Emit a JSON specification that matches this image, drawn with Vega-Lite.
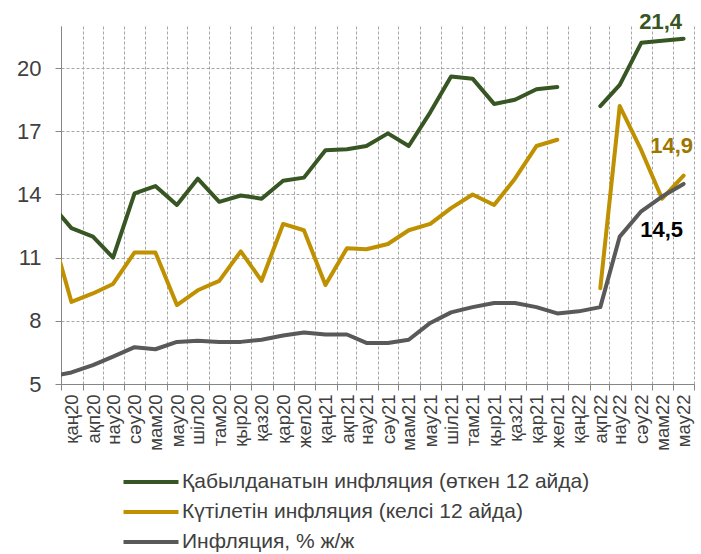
{
  "$schema": "https://vega.github.io/schema/vega-lite/v6.json",
  "width": 633,
  "height": 358,
  "autosize": "none",
  "padding": {"left": 61, "top": 26, "right": 7, "bottom": 170},
  "background": "white",
  "config": {"view": {"stroke": null}, "font": "Liberation Sans"},
  "data": {
    "values": [
      {"date": "2019-12-16", "g": 13.6, "e": 12.5, "i": 5.35},
      {"date": "2020-01-16", "g": 12.4, "e": 8.9, "i": 5.55},
      {"date": "2020-02-16", "g": 12.0, "e": 9.3, "i": 5.9},
      {"date": "2020-03-16", "g": 11.0, "e": 9.75, "i": 6.3},
      {"date": "2020-04-16", "g": 14.05, "e": 11.25, "i": 6.75},
      {"date": "2020-05-16", "g": 14.4, "e": 11.25, "i": 6.65},
      {"date": "2020-06-16", "g": 13.5, "e": 8.75, "i": 7.0},
      {"date": "2020-07-16", "g": 14.75, "e": 9.45, "i": 7.05},
      {"date": "2020-08-16", "g": 13.65, "e": 9.9, "i": 7.0},
      {"date": "2020-09-16", "g": 13.95, "e": 11.3, "i": 7.0},
      {"date": "2020-10-16", "g": 13.8, "e": 9.9, "i": 7.1},
      {"date": "2020-11-16", "g": 14.65, "e": 12.6, "i": 7.3},
      {"date": "2020-12-16", "g": 14.8, "e": 12.3, "i": 7.45},
      {"date": "2021-01-16", "g": 16.1, "e": 9.7, "i": 7.35},
      {"date": "2021-02-16", "g": 16.15, "e": 11.45, "i": 7.35},
      {"date": "2021-03-16", "g": 16.3, "e": 11.4, "i": 6.95},
      {"date": "2021-04-16", "g": 16.9, "e": 11.65, "i": 6.95},
      {"date": "2021-05-16", "g": 16.3, "e": 12.3, "i": 7.1},
      {"date": "2021-06-16", "g": 17.9, "e": 12.6, "i": 7.9},
      {"date": "2021-07-16", "g": 19.6, "e": 13.35, "i": 8.4},
      {"date": "2021-08-16", "g": 19.5, "e": 14.0, "i": 8.65},
      {"date": "2021-09-16", "g": 18.3, "e": 13.5, "i": 8.85},
      {"date": "2021-10-16", "g": 18.5, "e": 14.75, "i": 8.85},
      {"date": "2021-11-16", "g": 19.0, "e": 16.3, "i": 8.65},
      {"date": "2021-12-16", "g": 19.1, "e": 16.6, "i": 8.35},
      {"date": "2022-01-16", "g": null, "e": null, "i": 8.45},
      {"date": "2022-02-16", "g": 18.2, "e": 9.55, "i": 8.65},
      {"date": "2022-03-16", "g": 19.2, "e": 18.2, "i": 12.0},
      {"date": "2022-04-16", "g": 21.2, "e": 16.1, "i": 13.2},
      {"date": "2022-05-16", "g": 21.3, "e": 13.8, "i": 13.9},
      {"date": "2022-06-16", "g": 21.4, "e": 14.9, "i": 14.5}
    ]
  },
  "transform": [
    {"fold": ["g", "e", "i"], "as": ["series", "value"]}
  ],
  "encoding": {
    "x": {
      "field": "date",
      "type": "temporal",
      "scale": {
        "type": "utc",
        "domain": [
          {"year": 2020, "month": 1, "date": 1, "utc": true},
          {"year": 2022, "month": 7, "date": 1, "utc": true}
        ]
      },
      "axis": {
        "title": null,
        "grid": true,
        "gridDash": [3, 2],
        "gridColor": "#a6a6a6",
        "gridWidth": 1,
        "tickCount": {"interval": "month", "step": 1},
        "labelExpr": "(utcyear(datum.value) == 2022 && utcmonth(datum.value) >= 6) ? '' : ['қаң','ақп','нау','сәу','мам','мау','шіл','там','қыр','қаз','қар','жел'][utcmonth(datum.value)] + (utcyear(datum.value) - 2000)",
        "labelAngle": 270,
        "labelAlign": "right",
        "labelBaseline": "middle",
        "labelOffset": 10.5,
        "labelOverlap": false,
        "labelBound": false,
        "labelFlush": false,
        "labelPadding": 4,
        "labelFontSize": 18.5,
        "labelColor": "#404040",
        "domainColor": "#868686",
        "tickColor": "#868686",
        "tickSize": 6
      }
    },
    "y": {
      "field": "value",
      "type": "quantitative",
      "scale": {"domain": [5, 22], "nice": false, "zero": false},
      "axis": {
        "title": null,
        "values": [5, 8, 11, 14, 17, 20],
        "grid": true,
        "gridDash": [3, 2],
        "gridColor": "#a6a6a6",
        "labelFontSize": 22,
        "labelColor": "#404040",
        "labelPadding": 14,
        "domainColor": "#868686",
        "tickColor": "#868686",
        "tickSize": 6
      }
    }
  },
  "layer": [
    {
      "mark": {"type": "line", "strokeWidth": 4, "clip": true, "strokeCap": "round", "strokeJoin": "round", "invalid": "break-paths-filter-domains"},
      "encoding": {
        "color": {
          "field": "series",
          "type": "nominal",
          "scale": {"domain": ["g", "e", "i"], "range": ["#375623", "#BF9000", "#595959"]},
          "legend": {
            "orient": "none",
            "legendX": 78,
            "legendY": 444,
            "direction": "vertical",
            "title": null,
            "symbolType": "M-2.75,0H2.75",
            "symbolSize": 400,
            "symbolStrokeWidth": 4,
            "labelFontSize": 21,
            "labelColor": "#404040",
            "labelOffset": 19,
            "labelLimit": 700,
            "rowPadding": 8,
            "padding": 0,
            "labelExpr": "datum.value == 'g' ? 'Қабылданатын инфляция (өткен 12 айда)' : datum.value == 'e' ? 'Күтілетін инфляция (келсі 12 айда)' : 'Инфляция, % ж/ж'"
          }
        }
      }
    },
    {
      "transform": [
        {"filter": "datum.series == 'g' && utcyear(datum.date) == 2022 && utcmonth(datum.date) == 5"},
        {"calculate": "replace(format(datum.value, '.1f'), '.', ',')", "as": "lbl"}
      ],
      "mark": {"type": "text", "dx": -23, "dy": -17, "fontSize": 22, "fontWeight": "bold", "color": "#375623"},
      "encoding": {"text": {"field": "lbl"}}
    },
    {
      "transform": [
        {"filter": "datum.series == 'e' && utcyear(datum.date) == 2022 && utcmonth(datum.date) == 5"},
        {"calculate": "replace(format(datum.value, '.1f'), '.', ',')", "as": "lbl"}
      ],
      "mark": {"type": "text", "dx": -12, "dy": -30, "fontSize": 22, "fontWeight": "bold", "color": "#9C7600"},
      "encoding": {"text": {"field": "lbl"}}
    },
    {
      "transform": [
        {"filter": "datum.series == 'i' && utcyear(datum.date) == 2022 && utcmonth(datum.date) == 5"},
        {"calculate": "replace(format(datum.value, '.1f'), '.', ',')", "as": "lbl"}
      ],
      "mark": {"type": "text", "dx": -22, "dy": 46, "fontSize": 22, "fontWeight": "bold", "color": "#000000"},
      "encoding": {"text": {"field": "lbl"}}
    }
  ]
}
